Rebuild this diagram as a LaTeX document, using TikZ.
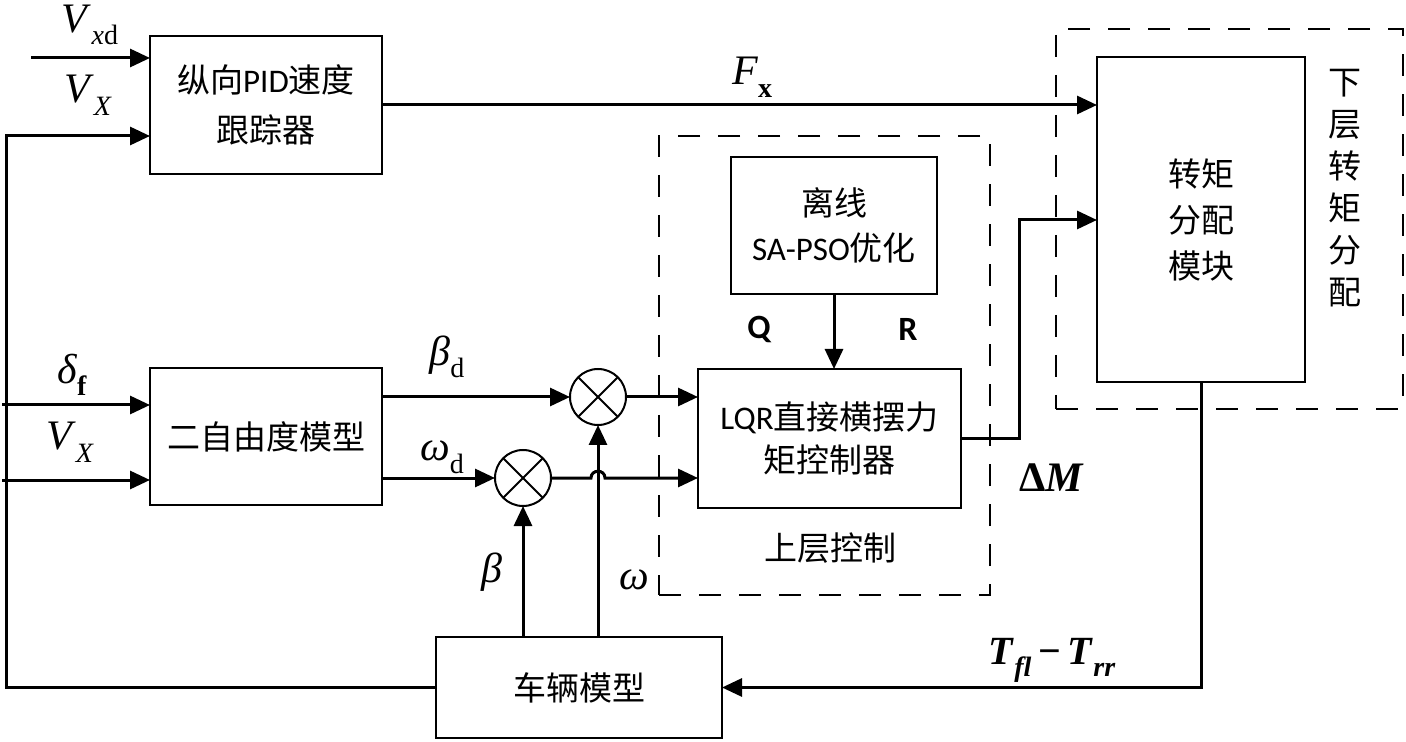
\documentclass[tikz,border=0pt]{standalone}
\usepackage{fontspec}
\setmainfont{Liberation Serif}
\newfontfamily\cjk{Noto Sans CJK SC}
\newfontfamily\lat{Carlito}
\usetikzlibrary{arrows.meta,calc}
\newcommand\lab[2]{\textit{#1}\raisebox{-0.3em}{\fontsize{14pt}{14pt}\selectfont #2}}
\newcommand\cjkfs[1]{\cjk\fontsize{16.5pt}{#1}\selectfont}
\begin{document}
\begin{tikzpicture}[x=0.5pt,y=-0.5pt,
  blk/.style={draw,line width=1pt,inner sep=0pt,outer sep=0pt,align=center},
  dbox/.style={draw,line width=1pt,dash pattern=on 11pt off 9pt,inner sep=0pt,outer sep=0pt},
  conn/.style={line width=1.5pt},
  arr/.style={conn,-{Triangle[length=10pt,width=9pt]}},
  mul/.style={draw,circle,line width=1pt,minimum size=28pt,inner sep=0pt,outer sep=0pt},
  ml/.style={inner sep=0pt,font=\fontsize{21pt}{21pt}\selectfont}
]
\useasboundingbox (0,0) rectangle (1406,742);
\fill[white] (0,0) rectangle (1406,742);

% dashed groups
\node[dbox,minimum width=165.5pt,minimum height=229.5pt] (up) at (824.5,365.5) {};
\node[dbox,minimum width=173.5pt,minimum height=190pt] (low) at (1229.5,219) {};

% blocks
\node[blk,minimum width=116pt,minimum height=69pt,font=\cjkfs{25pt}] (pid) at (266,105) {纵向{\lat PID}速度\\跟踪器};
\node[blk,minimum width=116pt,minimum height=68.5pt,font=\cjkfs{25pt}] (dof) at (266,436.5) {二自由度模型};
\node[blk,minimum width=143pt,minimum height=50.5pt,font=\cjkfs{25pt}] (veh) at (579,687.5) {车辆模型};
\node[blk,minimum width=103pt,minimum height=68.5pt,font=\cjkfs{22.5pt}] (pso) at (834,225.5) {离线\\{\lat SA-PSO}优化};
\node[blk,minimum width=131.5pt,minimum height=69.5pt,font=\cjkfs{21.5pt}] (lqr) at (829.5,438.5) {{\lat LQR}直接横摆力\\矩控制器};
\node[blk,minimum width=104pt,minimum height=162.5pt,font=\cjkfs{23pt}] (tq) at (1201,219.5) {转矩\\分配\\模块};

% multipliers
\node[mul] (m1) at (598,397) {};
\node[mul] (m2) at (523,478) {};
\foreach \m in {m1,m2}{
  \draw[line width=1pt] (\m.north west) -- (\m.south east);
  \draw[line width=1pt] (\m.north east) -- (\m.south west);
}

% text labels
\node[inner sep=0pt,font=\cjkfs{21pt},align=center] (tlow) at (1345,188) {下\\层\\转\\矩\\分\\配};
\node[inner sep=0pt,font=\cjkfs{21pt}] (tup) at (830,548) {上层控制};
\node[inner sep=0pt,font=\lat\bfseries\fontsize{17pt}{17pt}\selectfont] (lq) at (759,329) {Q};
\node[inner sep=0pt,font=\lat\bfseries\fontsize{17pt}{17pt}\selectfont] (lr) at (908,329) {R};

\node[ml] (lvxd) at (90,25) {\lab{V}{\textit{x}d}};
\node[ml] (lvx1) at (88,95) {\lab{V}{\textit{X}}};
\node[ml] (lfx) at (752,77) {\lab{F}{\textbf{x}}};
\node[ml] (ldf) at (72,375) {\lab{δ}{\textbf{f}}};
\node[ml] (lvx2) at (70,442) {\lab{V}{\textit{X}}};
\node[ml] (lbd) at (447,357) {\lab{β}{d}};
\node[ml] (lwd) at (442,457) {\lab{ω}{d}};
\node[ml] (lb) at (492,572) {\textit{β}};
\node[ml] (lw) at (634,580) {\textit{ω}};
\node[ml,font=\bfseries\fontsize{21pt}{21pt}\selectfont] (ldm) at (1052,478) {Δ\textit{M}};
\node[ml,font=\bfseries\fontsize{20pt}{20pt}\selectfont] (lt) at (1052,660) {\lab{T}{\textit{fl}}\,−\,\lab{T}{\textit{rr}}};

% coordinates for free ends / bends
\coordinate (vxdin) at (31,58);
\coordinate (fbc) at (6,687.5);
\coordinate (fbt) at (6,136);
\coordinate (dfin) at (2,405);
\coordinate (vxin) at (2,480);
\coordinate (bdo) at (382,397);
\coordinate (wdo) at (382,478);
\coordinate (j1) at (591,478);
\coordinate (j2) at (605,478);
\coordinate (dmk) at (1019,220);

% connectors
\draw[arr] (vxdin) -- (vxdin -| pid.west);
\draw[arr] (veh.west) -- (fbc) -- (fbt) -- (fbt -| pid.west);
\draw[arr] (dfin) -- (dfin -| dof.west);
\draw[arr] (vxin) -- (vxin -| dof.west);
\draw[arr] (pid.east) -- (pid.east -| tq.west);
\draw[arr] (bdo) -- (m1.west);
\draw[arr] (wdo) -- (m2.west);
\draw[arr] (m1.east) -- (m1.east -| lqr.west);
\draw[arr] (m2.south |- veh.north) -- (m2.south);
\draw[arr] (m1.south |- veh.north) -- (m1.south);
\draw[arr] (m2.east) -- (j1) .. controls ($(j1)+(0,-9)$) and ($(j2)+(0,-9)$) .. (j2) -- (j2 -| lqr.west);
\draw[arr] (pso.south) -- (pso.south |- lqr.north);
\draw[arr] (lqr.east) -| (dmk) -- (dmk -| tq.west);
\draw[arr] (tq.south) |- (veh.east);
\end{tikzpicture}
\end{document}
